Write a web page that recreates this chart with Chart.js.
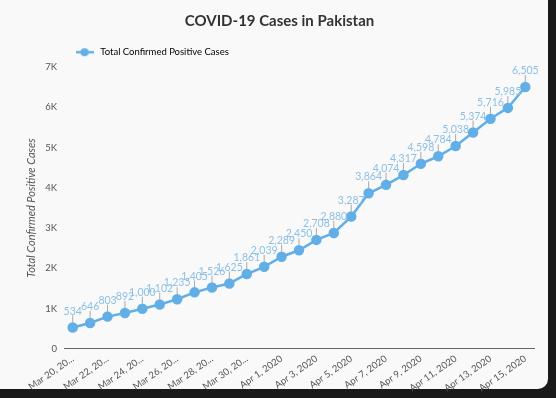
<!DOCTYPE html>
<html>
<head>
<meta charset="utf-8">
<script src="https://cdn.jsdelivr.net/npm/chart.js@4"></script>
<style>
  html, body { margin: 0; padding: 0; background: #1a1a1a; }
  .card {
    position: absolute; left: 0; top: 0; width: 548px; height: 389px;
    background: #f9f9f9; border-bottom-right-radius: 10px;
  }
  .wrap { position: absolute; left: 0; top: 0; width: 556px; height: 398px; }
</style>
</head>
<body>
<div class="card"></div>
<div class="wrap"><canvas id="chart" width="556" height="398"></canvas></div>
<script>
// dates, Mar 20 - Apr 15 2020
const dates = [
  'Mar 20, 2020', 'Mar 21, 2020', 'Mar 22, 2020', 'Mar 23, 2020', 'Mar 24, 2020',
  'Mar 25, 2020', 'Mar 26, 2020', 'Mar 27, 2020', 'Mar 28, 2020', 'Mar 29, 2020',
  'Mar 30, 2020', 'Mar 31, 2020', 'Apr 1, 2020', 'Apr 2, 2020', 'Apr 3, 2020',
  'Apr 4, 2020', 'Apr 5, 2020', 'Apr 6, 2020', 'Apr 7, 2020', 'Apr 8, 2020',
  'Apr 9, 2020', 'Apr 10, 2020', 'Apr 11, 2020', 'Apr 12, 2020', 'Apr 13, 2020',
  'Apr 14, 2020', 'Apr 15, 2020'
];
const totalCases = [
  534, 646, 803, 892, 1000, 1102, 1235, 1405, 1526, 1625,
  1861, 2039, 2289, 2450, 2708, 2880, 3287, 3864, 4074, 4317,
  4598, 4784, 5038, 5374, 5716, 5985, 6505
];
// every 2nd date shown on the axis, long ones cut off like the original
const xTickLabels = [
  'Mar 20, 20...', '', 'Mar 22, 20...', '', 'Mar 24, 20...', '', 'Mar 26, 20...', '',
  'Mar 28, 20...', '', 'Mar 30, 20...', '', 'Apr 1, 2020', '', 'Apr 3, 2020', '',
  'Apr 5, 2020', '', 'Apr 7, 2020', '', 'Apr 9, 2020', '', 'Apr 11, 2020', '',
  'Apr 13, 2020', '', 'Apr 15, 2020'
];
const yTicks = [0, 1000, 2000, 3000, 4000, 5000, 6000, 7000];

const FONT = 'Lato, "Open Sans", sans-serif';
const blue = '#62aee6';

// legend marker: short line with a dot in the middle
const legendMark = document.createElement('canvas');
legendMark.width = 18;
legendMark.height = 10;
(() => {
  const c = legendMark.getContext('2d');
  c.strokeStyle = blue;
  c.fillStyle = blue;
  c.lineWidth = 2.5;
  c.beginPath(); c.moveTo(0, 5); c.lineTo(18, 5); c.stroke();
  c.beginPath(); c.arc(9, 5, 4, 0, Math.PI * 2); c.fill();
})();

// small leader line + value above each point
const valueLabels = {
  id: 'valueLabels',
  afterDatasetsDraw(chart) {
    const ctx = chart.ctx;
    const meta = chart.getDatasetMeta(0);
    ctx.save();
    ctx.font = '10.5px ' + FONT;
    ctx.textAlign = 'center';
    ctx.textBaseline = 'bottom';
    meta.data.forEach((pt, i) => {
      ctx.strokeStyle = '#a9a9a9';
      ctx.lineWidth = 1;
      ctx.beginPath();
      ctx.moveTo(pt.x, pt.y - 5);
      ctx.lineTo(pt.x, pt.y - 12);
      ctx.stroke();
      ctx.fillStyle = '#8cbfe6';
      ctx.fillText(totalCases[i].toLocaleString('en-US'), pt.x, pt.y - 11);
    });
    ctx.restore();
  }
};

new Chart(document.getElementById('chart').getContext('2d'), {
  type: 'line',
  data: {
    labels: dates,
    datasets: [{
      label: 'Total Confirmed Positive Cases',
      data: totalCases,
      borderColor: blue,
      backgroundColor: blue,
      borderWidth: 2.5,
      pointRadius: 4,
      pointStyle: 'circle',
      pointBackgroundColor: blue,
      pointBorderColor: blue,
      tension: 0,
      fill: false
    }]
  },
  options: {
    responsive: false,
    animation: false,
    layout: { padding: { left: 25, right: 22, top: 8, bottom: 0 } },
    plugins: {
      title: {
        display: true,
        text: 'COVID-19 Cases in Pakistan',
        color: '#333',
        font: { family: FONT, size: 15, weight: 'bold' },
        padding: { top: 4, bottom: 8 }
      },
      legend: {
        align: 'start',
        fullSize: false,
        labels: {
          color: '#555',
          font: { family: FONT, size: 9.5 },
          usePointStyle: true,
          pointStyleWidth: 22,
          padding: 9.5,
          generateLabels: chart => [{
            text: chart.data.datasets[0].label,
            pointStyle: legendMark,
            fillStyle: blue,
            strokeStyle: blue,
            lineWidth: 0,
            datasetIndex: 0
          }]
        }
      },
      tooltip: { enabled: false }
    },
    scales: {
      x: {
        offset: true,
        grid: { display: false, drawTicks: false },
        border: { display: true, color: '#666', width: 1 },
        ticks: {
          autoSkip: false,
          maxRotation: 35,
          minRotation: 35,
          color: '#555',
          font: { family: FONT, size: 9.5 },
          padding: 4,
          callback: (v, i) => xTickLabels[i]
        }
      },
      y: {
        min: 0,
        max: 7000,
        afterBuildTicks: axis => { axis.ticks = yTicks.map(v => ({ value: v })); },
        grid: { display: false, drawTicks: false },
        border: { display: false },
        title: {
          display: true,
          text: 'Total Confirmed Positive Cases',
          color: '#555',
          font: { family: FONT, size: 11, style: 'italic' },
          padding: { top: 0, bottom: 0 }
        },
        ticks: {
          color: '#555',
          font: { family: FONT, size: 9.5 },
          padding: 7,
          callback: v => v === 0 ? '0' : (v / 1000) + 'K'
        }
      }
    }
  },
  plugins: [valueLabels]
});
</script>
</body>
</html>
